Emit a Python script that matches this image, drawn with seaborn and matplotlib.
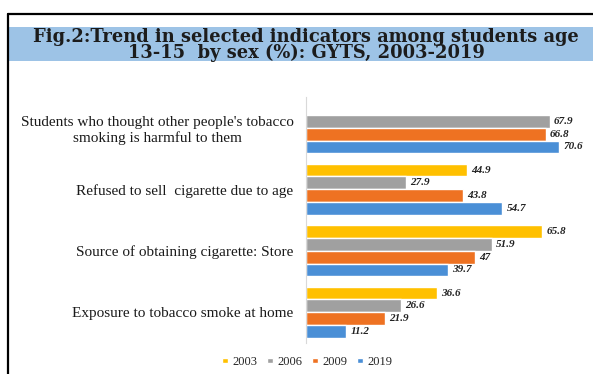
import numpy as np
import pandas as pd
import matplotlib
matplotlib.use("Agg")
import matplotlib.pyplot as plt
from matplotlib.patches import Rectangle
from matplotlib.lines import Line2D
import seaborn as sns

# Indicator labels (top to bottom)
indicators = [
    "Students who thought other people's tobacco\nsmoking is harmful to them",
    "Refused to sell  cigarette due to age",
    "Source of obtaining cigarette: Store",
    "Exposure to tobacco smoke at home",
]
years = ["2003", "2006", "2009", "2019"]

# Percentages per survey year
pct_2003 = [np.nan, 44.9, 65.8, 36.6]
pct_2006 = [67.9, 27.9, 51.9, 26.6]
pct_2009 = [66.8, 43.8, 47.0, 21.9]
pct_2019 = [70.6, 54.7, 39.7, 11.2]

palette = {"2003": "#FFC000", "2006": "#A0A0A0", "2009": "#EE7222", "2019": "#4A8FD6"}

rows = []
for yr, vals in zip(years, [pct_2003, pct_2006, pct_2009, pct_2019]):
    for ind, v in zip(indicators, vals):
        rows.append({"indicator": ind, "year": yr, "pct": v})
df = pd.DataFrame(rows)

sns.set_theme(style="white")
plt.rcParams["font.family"] = ["Liberation Serif", "DejaVu Serif"]

W, H = 593, 374
fig = plt.figure(figsize=(W / 100, H / 100), dpi=100)
fig.patch.set_facecolor("white")

# Outer frame (top and left edges visible)
fig.add_artist(Line2D([8 / W, 8 / W], [0, 1 - 14 / H], transform=fig.transFigure,
                      color="black", lw=1.6))
fig.add_artist(Line2D([8 / W, 1], [1 - 14 / H, 1 - 14 / H], transform=fig.transFigure,
                      color="black", lw=1.6))

# Title band
fig.add_artist(Rectangle((9 / W, 1 - 61 / H), 1 - 9 / W, 34 / H, transform=fig.transFigure,
                         facecolor="#9DC3E6", edgecolor="none"))
fig.text(306 / W, 1 - 45 / H,
         "Fig.2:Trend in selected indicators among students age\n"
         "13-15  by sex (%): GYTS, 2003-2019",
         ha="center", va="center", multialignment="center", linespacing=0.86,
         fontsize=12.9, fontweight="bold", color="#1c1c1c", family=["DejaVu Serif"])

ax = fig.add_axes([306 / W, 1 - 343 / H, (593 - 306) / W, (343 - 97) / H])
sns.barplot(data=df, y="indicator", x="pct", hue="year", hue_order=years,
            order=indicators, palette=palette, orient="h", width=0.83,
            saturation=1, ax=ax, legend=False)

ax.set_xlim(0, 80)
ax.set_xlabel("")
ax.set_ylabel("")
ax.set_xticks([])
for side in ["top", "right", "bottom"]:
    ax.spines[side].set_visible(False)
ax.spines["left"].set_color("#d9d9d9")
ax.spines["left"].set_linewidth(0.8)
ax.tick_params(axis="y", length=0, pad=9)
for lbl in ax.get_yticklabels():
    lbl.set_fontsize(11)
    lbl.set_multialignment("center")
    lbl.set_color("#1a1a1a")

for cont in ax.containers:
    labels = ["" if np.isnan(b.get_width()) else f"{b.get_width():g}" for b in cont]
    ax.bar_label(cont, labels=labels, padding=3, fontsize=8, fontweight="bold",
                 fontstyle="italic", color="#222222")

handles = [Rectangle((0, 0), 1, 1, facecolor=palette[y]) for y in years]
fig.legend(handles, years, loc="center", bbox_to_anchor=(307 / W, 1 - 362 / H), ncol=4,
           frameon=False, fontsize=9, handlelength=0.45, handleheight=0.35,
           handletextpad=0.35, columnspacing=0.8)

fig.savefig("out.png", dpi=100)
